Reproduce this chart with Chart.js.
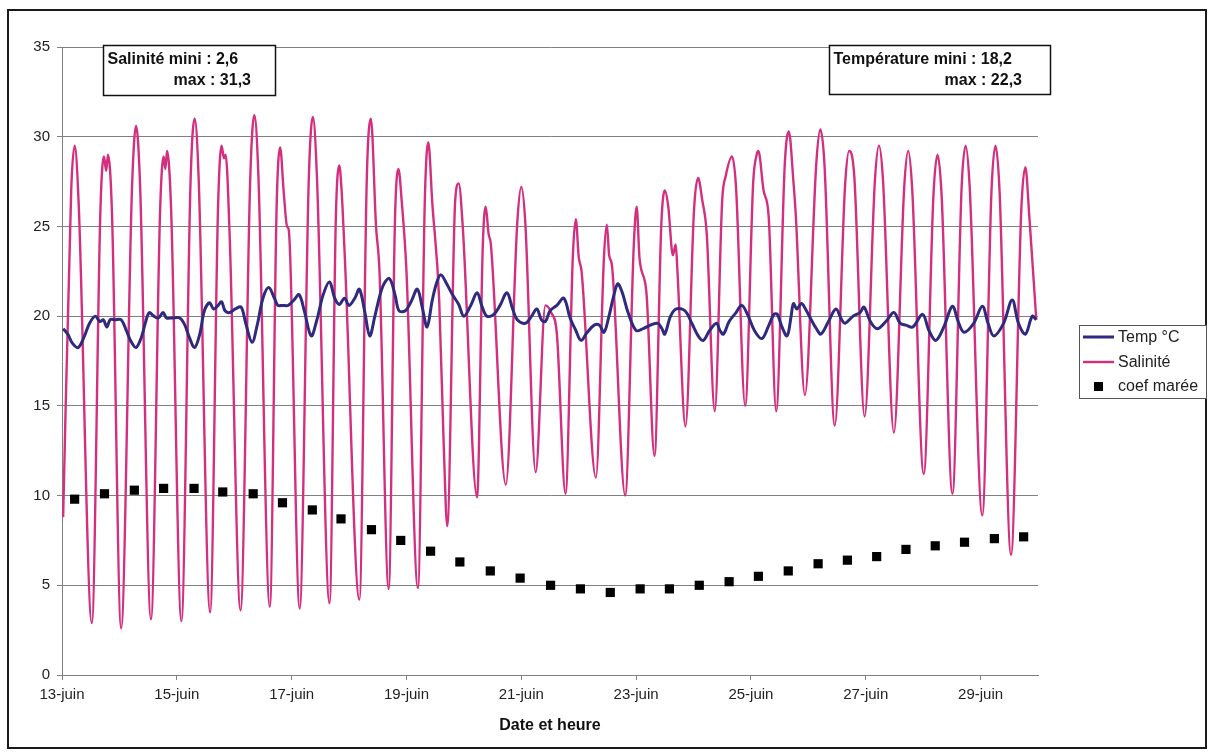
<!DOCTYPE html>
<html>
<head>
<meta charset="utf-8">
<script src="https://cdn.jsdelivr.net/npm/chart.js@4.4.1/dist/chart.umd.min.js"></script>
<style>
  html, body { margin: 0; padding: 0; background: #fff; }
  #wrap { width: 1209px; height: 756px; }
</style>
</head>
<body>
<div id="wrap"><canvas id="chart" width="1209" height="756"></canvas></div>
<script>
// jours depuis le 13 juin 00h
const tickDays = [0, 2, 4, 6, 8, 10, 12, 14, 16];
const tickLabels = ["13-juin", "15-juin", "17-juin", "19-juin", "21-juin", "23-juin", "25-juin", "27-juin", "29-juin"];

// salinité : creux, pics et épaulements [jour, valeur]
const salinite = [
  [0.02, 8.8], [0.16, 27.0], [0.22, 29.5], [0.29, 26.3], [0.52, 2.9],
  [0.67, 26.0], [0.73, 28.9], [0.77, 28.1], [0.80, 29.0], [0.87, 25.8], [1.03, 2.6],
  [1.22, 27.2], [1.29, 30.6], [1.36, 27.3], [1.55, 3.1],
  [1.71, 26.0], [1.77, 28.9], [1.80, 28.2], [1.83, 29.2], [1.90, 26.0], [2.08, 3.0],
  [2.24, 27.6], [2.31, 31.0], [2.38, 27.7], [2.58, 3.5],
  [2.72, 26.3], [2.78, 29.5], [2.82, 28.8], [2.85, 29.0], [2.92, 24.5], [3.11, 3.6],
  [3.28, 27.8], [3.35, 31.2], [3.42, 27.9], [3.62, 3.8],
  [3.74, 26.3], [3.80, 29.4], [3.86, 27.0], [3.92, 25.0], [3.95, 24.8], [4.14, 3.7],
  [4.30, 27.8], [4.37, 31.1], [4.44, 27.8], [4.66, 4.0],
  [4.77, 25.5], [4.83, 28.4], [4.87, 27.0], [4.93, 23.0], [5.18, 4.2],
  [5.31, 27.8], [5.38, 31.0], [5.47, 25.0], [5.53, 22.5], [5.69, 4.8],
  [5.80, 25.4], [5.86, 28.2], [5.92, 26.3], [6.00, 22.5], [6.20, 4.85],
  [6.32, 26.5], [6.38, 29.7], [6.45, 26.3], [6.57, 20.9], [6.65, 12.7], [6.71, 8.3],
  [6.85, 26.5], [6.91, 27.4], [6.98, 25.0], [7.23, 9.9],
  [7.33, 24.0], [7.38, 26.1], [7.43, 24.6], [7.47, 24.0], [7.73, 10.6],
  [7.93, 25.2], [8.00, 27.2], [8.07, 25.2], [8.25, 11.3],
  [8.42, 20.6], [8.52, 20.2], [8.62, 19.0], [8.77, 10.1],
  [8.90, 23.5], [8.95, 25.4], [9.00, 23.3], [9.05, 22.5], [9.30, 11.0],
  [9.44, 23.3], [9.49, 25.1], [9.53, 23.4], [9.58, 22.8], [9.81, 10.0],
  [9.96, 24.0], [10.01, 26.1], [10.06, 23.2], [10.18, 21.3], [10.32, 12.2],
  [10.44, 25.2], [10.50, 27.0], [10.56, 26.1], [10.64, 23.4], [10.69, 24.0], [10.72, 22.5], [10.86, 13.85],
  [11.01, 26.0], [11.08, 27.7], [11.15, 26.5], [11.23, 24.6], [11.37, 14.7],
  [11.50, 26.5], [11.56, 27.8], [11.67, 28.9], [11.74, 27.2], [11.90, 15.0],
  [12.04, 27.5], [12.10, 29.0], [12.13, 29.2], [12.22, 27.0], [12.31, 25.5], [12.44, 14.7],
  [12.59, 28.5], [12.66, 30.3], [12.74, 27.5], [12.78, 25.7], [12.94, 15.6],
  [13.14, 28.6], [13.21, 30.4], [13.28, 28.5], [13.46, 13.9],
  [13.64, 27.3], [13.71, 29.2], [13.80, 27.8], [13.98, 14.4],
  [14.16, 27.6], [14.23, 29.5], [14.30, 27.6], [14.49, 13.5],
  [14.67, 27.2], [14.74, 29.2], [14.81, 27.0], [15.01, 11.2],
  [15.18, 26.8], [15.25, 29.0], [15.32, 26.8], [15.51, 10.1],
  [15.67, 27.2], [15.74, 29.5], [15.81, 27.2], [16.03, 8.9],
  [16.19, 27.0], [16.26, 29.5], [16.33, 27.0], [16.53, 6.7],
  [16.71, 26.0], [16.78, 28.3], [16.85, 25.5], [16.97, 19.8]
];

// température °C [jour, valeur]
const temperature = [
  [0.02, 19.3], [0.10, 19.0], [0.18, 18.5], [0.28, 18.25], [0.38, 18.8], [0.48, 19.6], [0.58, 20.0],
  [0.66, 19.7], [0.72, 19.8], [0.78, 19.4], [0.84, 19.8], [0.92, 19.8], [1.03, 19.8], [1.12, 19.2],
  [1.20, 18.6], [1.29, 18.25], [1.38, 18.8], [1.45, 19.6], [1.52, 20.2], [1.60, 20.0], [1.68, 19.9],
  [1.76, 20.2], [1.82, 19.9], [1.92, 19.9], [2.05, 19.9], [2.14, 19.5], [2.22, 18.8], [2.31, 18.25],
  [2.40, 19.0], [2.48, 20.3], [2.57, 20.75], [2.64, 20.4], [2.72, 20.6], [2.78, 20.8], [2.84, 20.3],
  [2.92, 20.2], [3.02, 20.4], [3.12, 20.5], [3.20, 19.6], [3.31, 18.55], [3.40, 19.5], [3.50, 21.0],
  [3.60, 21.6], [3.70, 21.0], [3.76, 20.6], [3.84, 20.6], [3.94, 20.6], [4.04, 20.9], [4.13, 21.2],
  [4.22, 20.3], [4.34, 18.9], [4.44, 19.8], [4.55, 21.2], [4.66, 21.9], [4.75, 21.0], [4.83, 20.65],
  [4.92, 21.0], [5.00, 20.6], [5.10, 21.0], [5.18, 21.5], [5.27, 20.3], [5.36, 18.9], [5.45, 20.0],
  [5.58, 21.6], [5.70, 22.1], [5.80, 21.2], [5.87, 20.3], [5.98, 20.3], [6.08, 20.8], [6.19, 21.5],
  [6.28, 20.4], [6.36, 19.4], [6.45, 20.9], [6.53, 21.9], [6.60, 22.3], [6.70, 21.8], [6.80, 21.2],
  [6.91, 20.65], [7.00, 20.0], [7.12, 20.6], [7.23, 21.3], [7.32, 20.5], [7.40, 20.0], [7.52, 20.1],
  [7.63, 20.6], [7.75, 21.3], [7.85, 20.4], [7.93, 19.8], [8.07, 19.6], [8.18, 20.0], [8.27, 20.4],
  [8.35, 19.8], [8.42, 19.7], [8.50, 20.3], [8.62, 20.6], [8.74, 21.0], [8.85, 19.9], [8.95, 19.2],
  [9.04, 18.65], [9.15, 19.1], [9.27, 19.5], [9.36, 19.5], [9.44, 19.1], [9.52, 19.9], [9.60, 21.0],
  [9.68, 21.8], [9.76, 21.3], [9.86, 20.2], [10.00, 19.2], [10.12, 19.3], [10.25, 19.5], [10.38, 19.6],
  [10.45, 19.3], [10.50, 19.0], [10.60, 20.0], [10.70, 20.4], [10.85, 20.3], [10.97, 19.6], [11.08, 18.9],
  [11.17, 18.65], [11.28, 19.2], [11.40, 19.6], [11.46, 19.2], [11.52, 19.0], [11.62, 19.7], [11.74, 20.2],
  [11.84, 20.6], [11.94, 20.1], [12.06, 19.2], [12.19, 18.75], [12.30, 19.4], [12.40, 20.1], [12.46, 20.1],
  [12.54, 19.4], [12.63, 18.9], [12.70, 20.0], [12.74, 20.7], [12.80, 20.4], [12.88, 20.7], [12.95, 20.4],
  [13.05, 19.8], [13.14, 19.3], [13.22, 19.0], [13.35, 19.7], [13.48, 20.4], [13.58, 19.8], [13.64, 19.6],
  [13.78, 20.0], [13.90, 20.2], [13.97, 20.5], [14.08, 19.7], [14.20, 19.3], [14.35, 19.7], [14.49, 20.2],
  [14.60, 19.6], [14.70, 19.5], [14.82, 19.4], [14.99, 20.1], [15.10, 19.2], [15.22, 18.65], [15.36, 19.4],
  [15.51, 20.55], [15.61, 19.7], [15.71, 19.1], [15.88, 19.6], [16.03, 20.55], [16.13, 19.6], [16.23, 18.9],
  [16.40, 19.6], [16.55, 20.9], [16.66, 19.6], [16.78, 19.0], [16.90, 20.0], [16.97, 19.8]
];

// coefficient de marée (/10), un point par pleine mer
const coefDays = [0.22, 0.74, 1.26, 1.77, 2.30, 2.80, 3.33, 3.84, 4.36, 4.86, 5.39, 5.90, 6.42, 6.93, 7.46, 7.98,
  8.51, 9.03, 9.55, 10.07, 10.58, 11.10, 11.62, 12.13, 12.65, 13.17, 13.68, 14.19, 14.70, 15.21, 15.72, 16.24, 16.75];
const coefValues = [9.8, 10.1, 10.3, 10.4, 10.4, 10.2, 10.1, 9.6, 9.2, 8.7, 8.1, 7.5, 6.9, 6.3, 5.8, 5.4,
  5.0, 4.8, 4.6, 4.8, 4.8, 5.0, 5.2, 5.5, 5.8, 6.2, 6.4, 6.6, 7.0, 7.2, 7.4, 7.6, 7.7];

const toXY = (arr) => arr.map(([x, y]) => ({ x, y }));

const FONT = '"Liberation Sans", Arial, sans-serif';
const PINK = "#d42f7e";
const NAVY = "#2e2a7e";
const GRID = "#808080";

// cadre, encadrés mini/max et légende
const decor = {
  id: "decor",
  afterDraw(chart) {
    const ctx = chart.ctx;
    ctx.save();

    ctx.strokeStyle = "#1a1a1a";
    ctx.lineWidth = 2;
    ctx.strokeRect(8, 10, 1198, 738);

    const box = (x, y, w, h, l1, l2, l2Right) => {
      ctx.fillStyle = "#fff";
      ctx.fillRect(x, y, w, h);
      ctx.strokeStyle = "#111";
      ctx.lineWidth = 1.5;
      ctx.strokeRect(x, y, w, h);
      ctx.fillStyle = "#111";
      ctx.font = "bold 16px " + FONT;
      ctx.textBaseline = "middle";
      ctx.textAlign = "left";
      ctx.fillText(l1, x + 4, y + 14);
      ctx.textAlign = "right";
      ctx.fillText(l2, l2Right, y + 35);
    };
    box(103.5, 45.5, 172, 50, "Salinité mini : 2,6", "max : 31,3", 251);
    box(829.5, 45.5, 221, 49, "Température mini : 18,2", "max : 22,3", 1022);

    // légende
    ctx.fillStyle = "#fff";
    ctx.fillRect(1079, 325, 128, 73);
    ctx.strokeStyle = "#555";
    ctx.lineWidth = 1;
    ctx.strokeRect(1079.5, 325.5, 127, 73);
    ctx.font = "16px " + FONT;
    ctx.textAlign = "left";
    ctx.textBaseline = "middle";
    const ds = chart.data.datasets;
    const rows = [
      { d: ds[0], y: 337, line: true },
      { d: ds[2], y: 362, line: true },
      { d: ds[1], y: 386, line: false }
    ];
    rows.forEach((r) => {
      if (r.line) {
        ctx.strokeStyle = r.d.borderColor;
        ctx.lineWidth = r.d.borderWidth;
        ctx.beginPath();
        ctx.moveTo(1083, r.y);
        ctx.lineTo(1114, r.y);
        ctx.stroke();
      } else {
        ctx.fillStyle = r.d.backgroundColor;
        ctx.fillRect(1094, r.y - 4, 9, 9);
      }
      ctx.fillStyle = "#222";
      ctx.fillText(r.d.label, 1118, r.y + 1);
    });
    ctx.restore();
  }
};

new Chart(document.getElementById("chart"), {
  data: {
    datasets: [
      {
        type: "line",
        label: "Temp °C",
        data: toXY(temperature),
        borderColor: NAVY,
        backgroundColor: NAVY,
        borderWidth: 3,
        pointRadius: 0,
        tension: 0.35
      },
      {
        type: "scatter",
        label: "coef marée",
        data: coefDays.map((d, i) => ({ x: d, y: coefValues[i] })),
        backgroundColor: "#000",
        borderColor: "#000",
        pointStyle: "rect",
        pointRadius: 6.5,
        pointBorderWidth: 0
      },
      {
        type: "line",
        label: "Salinité",
        data: toXY(salinite),
        borderColor: PINK,
        backgroundColor: PINK,
        borderWidth: 2.4,
        pointRadius: 0,
        cubicInterpolationMode: "monotone"
      }
    ]
  },
  options: {
    responsive: false,
    animation: false,
    events: [],
    layout: { padding: { left: 0, right: 171, top: 47, bottom: 0 } },
    plugins: {
      legend: { display: false },
      tooltip: { enabled: false }
    },
    scales: {
      x: {
        type: "linear",
        min: 0,
        max: 17,
        afterBuildTicks: (scale) => { scale.ticks = tickDays.map((v) => ({ value: v })); },
        afterFit: (scale) => { scale.height = 81; },
        ticks: {
          callback: (v) => tickLabels[tickDays.indexOf(v)] || "",
          font: { family: FONT, size: 15 },
          color: "#222",
          padding: 6,
          maxRotation: 0
        },
        grid: { drawOnChartArea: false, color: GRID, tickLength: 5 },
        border: { color: GRID, width: 1 },
        title: {
          display: true,
          text: "Date et heure",
          font: { family: FONT, size: 16, weight: "bold" },
          color: "#111",
          padding: { top: 4, bottom: 21 }
        }
      },
      y: {
        min: 0,
        max: 35,
        afterFit: (scale) => { scale.width = 62; },
        ticks: {
          stepSize: 5,
          font: { family: FONT, size: 15 },
          color: "#222",
          padding: 7
        },
        grid: { color: GRID, tickLength: 5 },
        border: { color: GRID, width: 1 }
      }
    }
  },
  plugins: [decor]
});
</script>
</body>
</html>
